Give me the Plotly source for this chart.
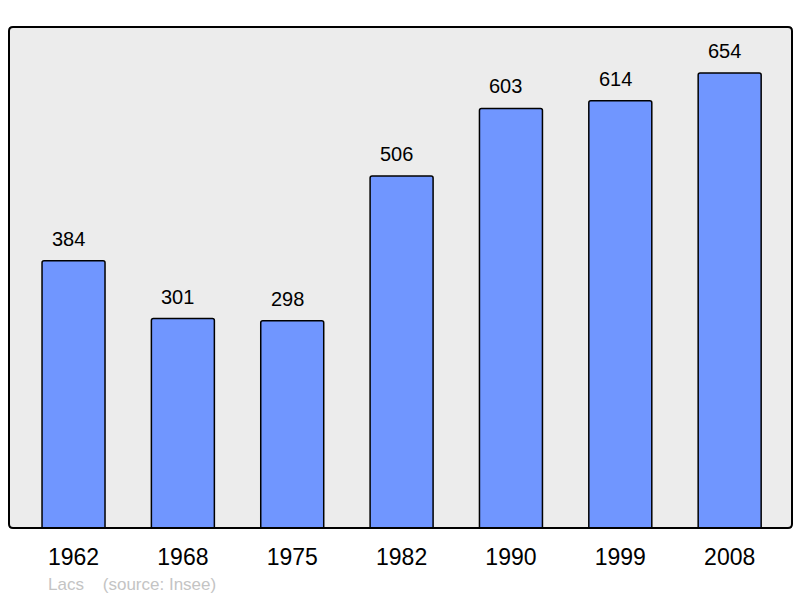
import plotly.graph_objects as go

years = ["1962", "1968", "1975", "1982", "1990", "1999", "2008"]
population = [384, 301, 298, 506, 603, 614, 654]
commune = "Lacs"
source = "(source: Insee)"

fig = go.Figure()
fig.add_trace(go.Bar(
    x=list(range(len(years))), y=population,
    width=0.576,
    marker=dict(color="#7096ff", line=dict(color="#000000", width=1.5)),
    hoverinfo="skip",
))
for i, v in enumerate(population):
    fig.add_annotation(x=i, y=v, text=str(v), showarrow=False, yanchor="bottom",
                       yshift=9, xshift=-5, font=dict(size=20, color="#000000"))

fig.add_annotation(xref="paper", yref="paper", x=0.047, y=-0.112, xanchor="left", yanchor="middle",
                   text=commune + "&nbsp;&nbsp;&nbsp;&nbsp;" + source, showarrow=False,
                   font=dict(size=17, color="#c4c4c4"))

# rounded frame around the plot area (paper coords; ~4px radius)
rx, ry = 4 / 783, 4 / 501
frame = (f"M {rx},0 L {1-rx},0 Q 1,0 1,{ry} L 1,{1-ry} Q 1,1 {1-rx},1 "
         f"L {rx},1 Q 0,1 0,{1-ry} L 0,{ry} Q 0,0 {rx},0 Z")
fig.add_shape(type="path", xref="paper", yref="paper", path=frame,
              line=dict(color="#000000", width=2), layer="above")

fig.update_layout(
    width=800, height=598,
    margin=dict(l=9, r=8, t=27, b=70),
    paper_bgcolor="#ffffff", plot_bgcolor="#ececec",
    font=dict(family="Liberation Sans, Arial, sans-serif", color="#000000"),
    showlegend=False,
    barcornerradius=2,
    xaxis=dict(range=[-0.59, 6.57], tickmode="array", tickvals=list(range(len(years))),
               ticktext=years, showgrid=False, zeroline=False, showline=False,
               tickfont=dict(size=23), ticklabelstandoff=13, ticks=""),
    yaxis=dict(range=[0, 720], visible=False, showgrid=False),
)
fig.write_html("out.html", config={"displayModeBar": False},
               post_script="document.body.style.margin='0';document.body.style.padding='0';")
